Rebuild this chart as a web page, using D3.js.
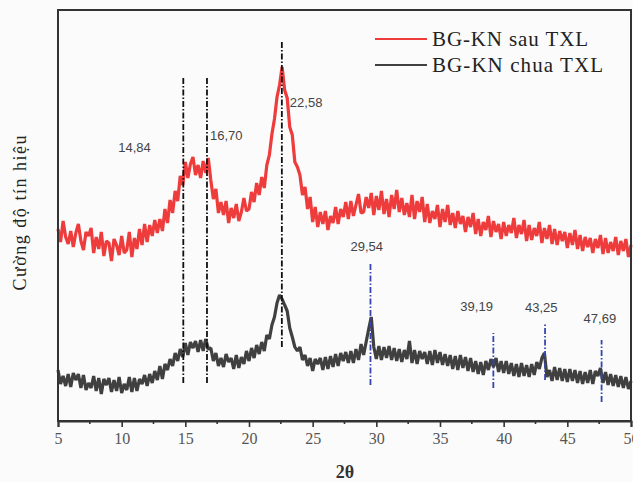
<!DOCTYPE html>
<meta charset="utf-8">
<style>
  body { margin: 0; background: #fbfbfb; }
  .tick text { font-family: "Liberation Serif", serif; font-size: 16px; fill: #555; }
  .peak-label { font-family: "Liberation Sans", sans-serif; font-size: 13px; fill: #444; }
</style>
<svg width="633" height="482"></svg>
<script src="https://cdn.jsdelivr.net/npm/d3@7"></script>
<script>

// XRD scan: 2θ from 5 to 50, step 0.2
var twoThetaStart = 5, twoThetaStep = 0.2;

// BG-KN sau TXL (red, upper curve), intensity a.u.
var sauTXL = [
  192, 179, 200, 184, 177,  190, 174, 188, 197, 180,  171, 189, 185, 193, 168,
  184, 172, 189, 165, 180,  178, 160, 182, 176, 166,  185, 168, 171, 189, 164,
  183, 172, 192, 176, 197,  179, 196, 185, 201, 188,  202, 190, 212, 198, 221,
  208, 230, 220, 245, 236,  259, 243, 257, 264, 246,  256, 243, 260, 248, 263,
  241, 222, 232, 208, 219,  206, 220, 198, 213, 203,  217, 200, 209, 223, 210,
  212, 229, 219, 238, 226,  244, 233, 256, 266, 287,  302, 324, 336, 354, 331,
  323, 294, 286, 259, 254,  246, 226, 234, 212, 224,  199, 214, 194, 209, 197,
  210, 191, 205, 198, 214,  197, 212, 204, 219, 202,  220, 205, 216, 227, 208,
  209, 224, 213, 228, 206,  225, 211, 230, 207, 222,  204, 226, 212, 231, 209,
  223, 206, 218, 204, 226,  202, 220, 209, 224, 199,  217, 198, 210, 202, 216,
  194, 212, 199, 216, 196,  208, 193, 210, 197, 205,  189, 204, 194, 208, 187,
  202, 185, 199, 191, 205,  184, 200, 189, 197, 182,  199, 185, 196, 188, 203,
  183, 196, 187, 201, 180,  196, 181, 193, 185, 199,  178, 193, 182, 196, 177,
  192, 176, 190, 180, 189,  173, 188, 176, 191, 172,  186, 170, 184, 174, 183,
  168, 182, 173, 186, 167,  183, 168, 179, 170, 184,  166, 180, 170, 182, 164,
  176
];

// BG-KN chua TXL (dark grey, lower curve)
var chuaTXL = [
  51, 37, 45, 35, 47,  34, 48, 41, 47, 33,  46, 31, 38, 33, 45,
  30, 43, 27, 42, 36,  43, 29, 41, 30, 44,  28, 37, 31, 44, 29,
  43, 30, 42, 37, 46,  35, 47, 38, 50, 41,  55, 42, 57, 51, 62,
  55, 68, 60, 72, 64,  78, 66, 79, 73, 80,  69, 81, 70, 82, 72,
  73, 60, 68, 55, 63,  54, 67, 59, 63, 52,  66, 53, 64, 57, 70,
  60, 73, 63, 76, 67,  79, 70, 86, 82, 96,  104, 118, 126, 122, 116,
  110, 93, 84, 74, 70,  74, 61, 66, 55, 63,  50, 62, 57, 63, 51,
  64, 52, 65, 54, 67,  55, 68, 60, 69, 58,  70, 58, 72, 61, 77,
  66, 79, 92, 104, 74,  62, 75, 61, 74, 63,  75, 61, 73, 60, 72,
  59, 71, 62, 80, 58,  71, 57, 70, 62, 69,  57, 70, 56, 71, 58,
  69, 56, 67, 55, 66,  52, 65, 51, 66, 53,  64, 50, 63, 49, 60,
  47, 59, 46, 60, 51,  62, 54, 63, 49, 60,  48, 60, 47, 58, 45,
  57, 44, 58, 45, 56,  44, 57, 46, 59, 52,  63, 68, 44, 51, 40,
  54, 41, 53, 40, 52,  39, 52, 40, 51, 38,  50, 37, 49, 38, 51,
  37, 50, 45, 53, 38,  49, 36, 47, 35, 46,  34, 45, 33, 44, 32,
  40
];

// peak markers: position, label, line from / to (intensity), colour group
var peakPos    = [14.84, 16.70, 22.58, 29.54, 39.19, 43.25, 47.69];
var peakLabels = ["14,84", "16,70", "22,58", "29,54", "39,19", "43,25", "47,69"];
var peakFrom   = [38, 38, 74, 36, 33, 41, 19];
var peakTo     = [343, 344, 379, 159, 88, 98, 81];
var peakGroup  = ["a", "a", "a", "b", "b", "b", "b"];

var xTicks = [5, 10, 15, 20, 25, 30, 35, 40, 45, 50];
var seriesNames = ["BG-KN sau TXL", "BG-KN chua TXL"];

var margin = {top: 10, right: 2, bottom: 61, left: 58},
    width = 633 - margin.left - margin.right,
    height = 482 - margin.top - margin.bottom;

var svg = d3.select("svg"),
    g = svg.append("g").attr("transform", "translate(" + margin.left + "," + margin.top + ")");

var x = d3.scaleLinear().domain([5, 50]).range([0, width]);
var y = d3.scaleLinear().domain([0, 411]).range([height, 0]);

var colors = {sau: "#ee3b3b", chua: "#404040"};

function toPoints(vals) {
  return vals.map(function(v, i) { return [twoThetaStart + i * twoThetaStep, v]; });
}

var line = d3.line()
    .x(function(d) { return x(d[0]); })
    .y(function(d) { return y(d[1]); });

g.append("path")
    .datum(toPoints(sauTXL))
    .attr("fill", "none")
    .attr("stroke", colors.sau)
    .attr("stroke-width", 3.2)
    .attr("stroke-linejoin", "bevel")
    .attr("d", line);

g.append("path")
    .datum(toPoints(chuaTXL))
    .attr("fill", "none")
    .attr("stroke", colors.chua)
    .attr("stroke-width", 3.2)
    .attr("stroke-linejoin", "bevel")
    .attr("d", line);

// dash-dot peak lines
g.append("g")
  .selectAll("line")
  .data(peakPos)
  .enter().append("line")
    .attr("x1", function(d) { return x(d); })
    .attr("x2", function(d) { return x(d); })
    .attr("y1", function(d, i) { return y(peakFrom[i]); })
    .attr("y2", function(d, i) { return y(peakTo[i]); })
    .attr("stroke", function(d, i) { return peakGroup[i] == "a" ? "#111" : "#3545b0"; })
    .attr("stroke-width", 1.8)
    .attr("stroke-dasharray", "6,2,1.5,2");

// peak labels (placed beside the lines as in the figure)
var labelDx = [-65, 3, 8, -20, -33, -20, -18];
var labelY  = [269, 281, 314, 170, 110, 109, 98];
g.append("g")
  .selectAll("text")
  .data(peakLabels)
  .enter().append("text")
    .attr("class", "peak-label")
    .attr("x", function(d, i) { return x(peakPos[i]) + labelDx[i]; })
    .attr("y", function(d, i) { return y(labelY[i]); })
    .text(function(d) { return d; });

// frame
g.append("rect")
    .attr("width", width)
    .attr("height", height)
    .attr("fill", "none")
    .attr("stroke", "#333")
    .attr("stroke-width", 2);

// x axis
var xAxis = g.append("g")
    .attr("transform", "translate(0," + height + ")")
    .call(d3.axisBottom(x).tickValues(xTicks).tickSize(6).tickPadding(6).tickFormat(d3.format("d")));
xAxis.select(".domain").attr("stroke", "#333").attr("stroke-width", 2);
xAxis.selectAll(".tick line").attr("stroke", "#333").attr("stroke-width", 1.6);

g.append("g")
    .attr("transform", "translate(0," + height + ")")
  .selectAll("line")
  .data(xTicks.slice(0, -1).map(function(d) { return d + 2.5; }))
  .enter().append("line")
    .attr("x1", x).attr("x2", x)
    .attr("y1", 0).attr("y2", 3)
    .attr("stroke", "#333")
    .attr("stroke-width", 1.6);

svg.append("text")
    .attr("x", 345)
    .attr("y", 478)
    .attr("text-anchor", "middle")
    .attr("font-family", "Liberation Serif, serif")
    .attr("font-size", 18)
    .attr("font-weight", "bold")
    .attr("fill", "#333")
    .text("2θ");

svg.append("text")
    .attr("transform", "translate(26,213)rotate(-90)")
    .attr("text-anchor", "middle")
    .attr("font-family", "Liberation Serif, serif")
    .attr("font-size", 18)
    .attr("fill", "#222")
    .attr("textLength", 155)
    .text("Cường độ tín hiệu");

// legend
var legend = svg.append("g")
  .selectAll("g")
  .data(seriesNames)
  .enter().append("g")
    .attr("transform", function(d, i) { return "translate(375," + (39 + i * 26) + ")"; });

legend.append("line")
    .attr("x2", 52)
    .attr("stroke", function(d, i) { return i == 0 ? colors.sau : colors.chua; })
    .attr("stroke-width", 2);

legend.append("text")
    .attr("x", 57)
    .attr("y", 7)
    .attr("font-family", "Liberation Serif, serif")
    .attr("font-size", 21)
    .attr("fill", "#222")
    .attr("textLength", function(d, i) { return i == 0 ? 156 : 171; })
    .text(function(d) { return d; });

</script>
